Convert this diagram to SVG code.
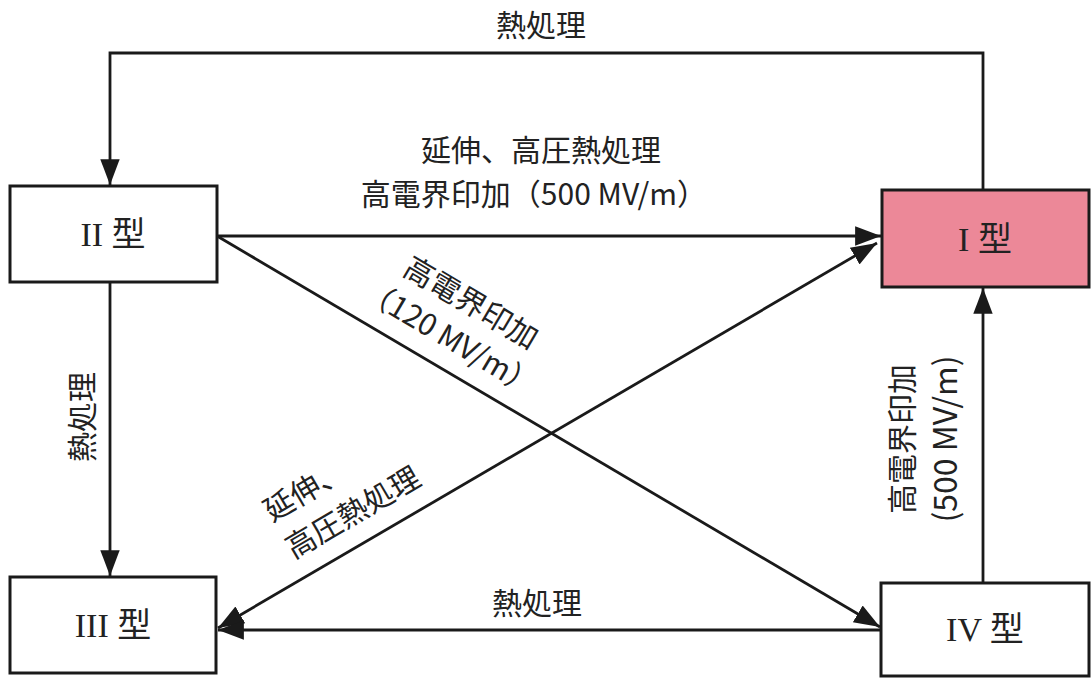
<svg xmlns="http://www.w3.org/2000/svg" width="1091" height="678" viewBox="0 0 1091 678">
<style>
.box{fill:#fff;stroke:#1a1a1a;stroke-width:3}
.pink{fill:#EC8898}
.nl{font-family:"Liberation Serif","Noto Sans CJK JP",serif;font-size:34px;fill:#222;text-anchor:middle;dominant-baseline:central}
.lb{font-family:"Noto Sans CJK JP","Noto Sans",sans-serif;font-size:30px;fill:#222;text-anchor:middle;dominant-baseline:central}
.ln{fill:none;stroke:#1a1a1a;stroke-width:2.8}
</style>
<defs>
<marker id="ah" markerUnits="userSpaceOnUse" markerWidth="28" markerHeight="22" refX="24" refY="9" orient="auto-start-reverse" viewBox="0 0 26 18">
<path d="M0,0 L24,9 L0,18 Z" fill="#1a1a1a"/>
</marker>
</defs>
<g id="connectors">
<path class="ln" d="M983,190 V53 H110 V185" marker-end="url(#ah)"/>
<path class="ln" d="M217,236 H881" marker-end="url(#ah)"/>
<path class="ln" d="M217,236 L880,627" marker-end="url(#ah)"/>
<path class="ln" d="M218,628 L877,243" marker-start="url(#ah)" marker-end="url(#ah)"/>
<path class="ln" d="M110,282 V576" marker-end="url(#ah)"/>
<path class="ln" d="M983,583 V288" marker-end="url(#ah)"/>
<path class="ln" d="M881,630 H218" marker-end="url(#ah)"/>
<text class="lb" x="541" y="23">熱処理</text>
<text class="lb" x="541" y="148">延伸、高圧熱処理</text>
<text class="lb" x="534" y="192">高電界印加（500 MV/m）</text>
<g transform="translate(462,318) rotate(30.6)">
<text class="lb" x="0" y="-20">高電界印加</text>
<text class="lb" x="0" y="21">（120 MV/m）</text>
</g>
<g transform="translate(338,493) rotate(-30.3)">
<text class="lb" x="-72" y="-21" style="text-anchor:start">延伸、</text>
<text class="lb" x="-72" y="22" style="text-anchor:start">高圧熱処理</text>
</g>
<text class="lb" transform="translate(80,417) rotate(-90)" x="0" y="0">熱処理</text>
<g transform="translate(921,439) rotate(-90)">
<text class="lb" x="0" y="-21">高電界印加</text>
<text class="lb" x="0" y="22" style="font-size:32px">(500 MV/m)</text>
</g>
<text class="lb" x="537" y="601">熱処理</text>
</g>
<g id="node-II"><rect class="box" x="10" y="186" width="207" height="96"/><text class="nl" x="113" y="234">II 型</text></g>
<g id="node-I"><rect class="box pink" x="882" y="190" width="207" height="97"/><text class="nl" x="985" y="239">I 型</text></g>
<g id="node-III"><rect class="box" x="10" y="577" width="206" height="96"/><text class="nl" x="113" y="625">III 型</text></g>
<g id="node-IV"><rect class="box" x="881" y="583" width="208" height="93"/><text class="nl" x="985" y="629">IV 型</text></g>
</svg>
